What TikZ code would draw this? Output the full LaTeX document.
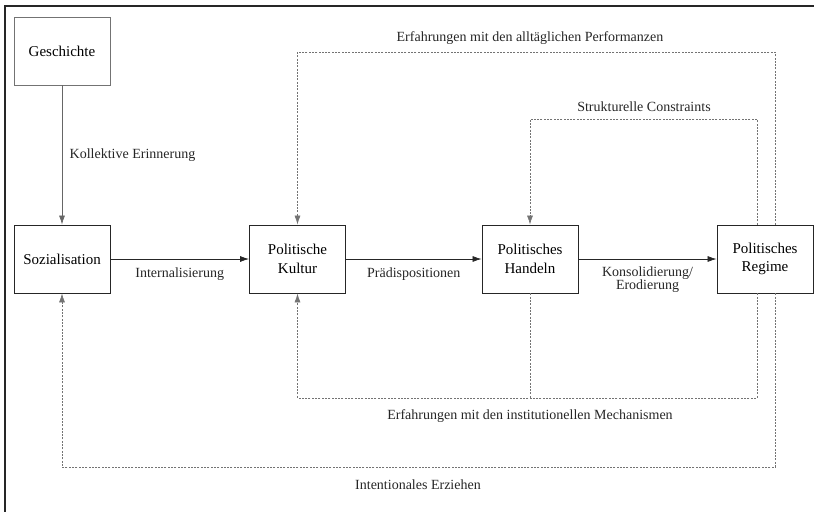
\documentclass[tikz,border=0pt]{standalone}
\usepackage{fontspec}
\setmainfont{Liberation Serif}
\usetikzlibrary{positioning,calc,arrows.meta}

\tikzset{
  box/.style={draw=black!85,line width=0.9pt,minimum width=96pt,minimum height=68pt,
    align=center,font=\fontsize{15}{18.5}\selectfont},
  lbl/.style={align=center,font=\fontsize{14}{13}\selectfont,text=black!85},
  flow/.style={-{Latex[length=9pt,width=6pt]},line width=0.7pt,black!85},
  feedback/.style={-{Latex[length=9pt,width=6pt]},line width=0.6pt,black!55,
    dash pattern=on 2pt off 1.3pt},
}

\begin{document}
\begin{tikzpicture}[x=1pt,y=-1pt]
		\useasboundingbox (0,0) rectangle (814,512);
		\draw[line width=1.6pt,black!85] (814,6) -| (5,512);
		%
		\node[box,draw=black!55,line width=0.6pt] (gesch) at (62,51) {Geschichte};
		\node[box] (sozi) at (62,259) {Sozialisation};
		\node[box] (kultur) at (297.5,259) {Politische\\Kultur};
		\node[box] (handeln) at (530,259) {Politisches\\Handeln};
		\node[box] (regime) at (765,259) {Politisches\\Regime};
		%
		\coordinate (topA) at (0,52);
		\coordinate (topB) at (0,119);
		\coordinate (botC) at (0,398);
		\coordinate (botD) at (0,467);
		%
		\draw[flow,black!60] (gesch) -- (sozi) node[lbl,midway,right=4pt] {Kollektive Erinnerung};
		\draw[flow] (sozi) -- (kultur) node[lbl,midway,below=5pt] {Internalisierung};
		\draw[flow] (kultur) -- (handeln) node[lbl,midway,below=5pt] {Prädispositionen};
		\draw[flow] (handeln) -- (regime) node[lbl,midway,below=4pt] {Konsolidierung/\\Erodierung};
		%
		\draw[feedback] ([xshift=10pt]regime.north) |- (kultur.north |- topA) -- (kultur.north);
		\draw[feedback] ([xshift=-8pt]regime.north) |- (handeln.north |- topB) -- (handeln.north);
		\draw[feedback] ([xshift=-8pt]regime.south) |- (kultur.south |- botC) -- (kultur.south);
		\draw[feedback,-] (handeln.south) -- (handeln.south |- botC);
		\draw[feedback] ([xshift=10pt]regime.south) |- (sozi.south |- botD) -- (sozi.south);
		%
		\node[lbl] (perf) at (530,38) {Erfahrungen mit den alltäglichen Performanzen};
		\node[lbl] (constr) at (644,107) {Strukturelle Constraints};
		\node[lbl] (mech) at (530,416) {Erfahrungen mit den institutionellen Mechanismen};
		\node[lbl] (erz) at (418,485) {Intentionales Erziehen};
\end{tikzpicture}
\end{document}
